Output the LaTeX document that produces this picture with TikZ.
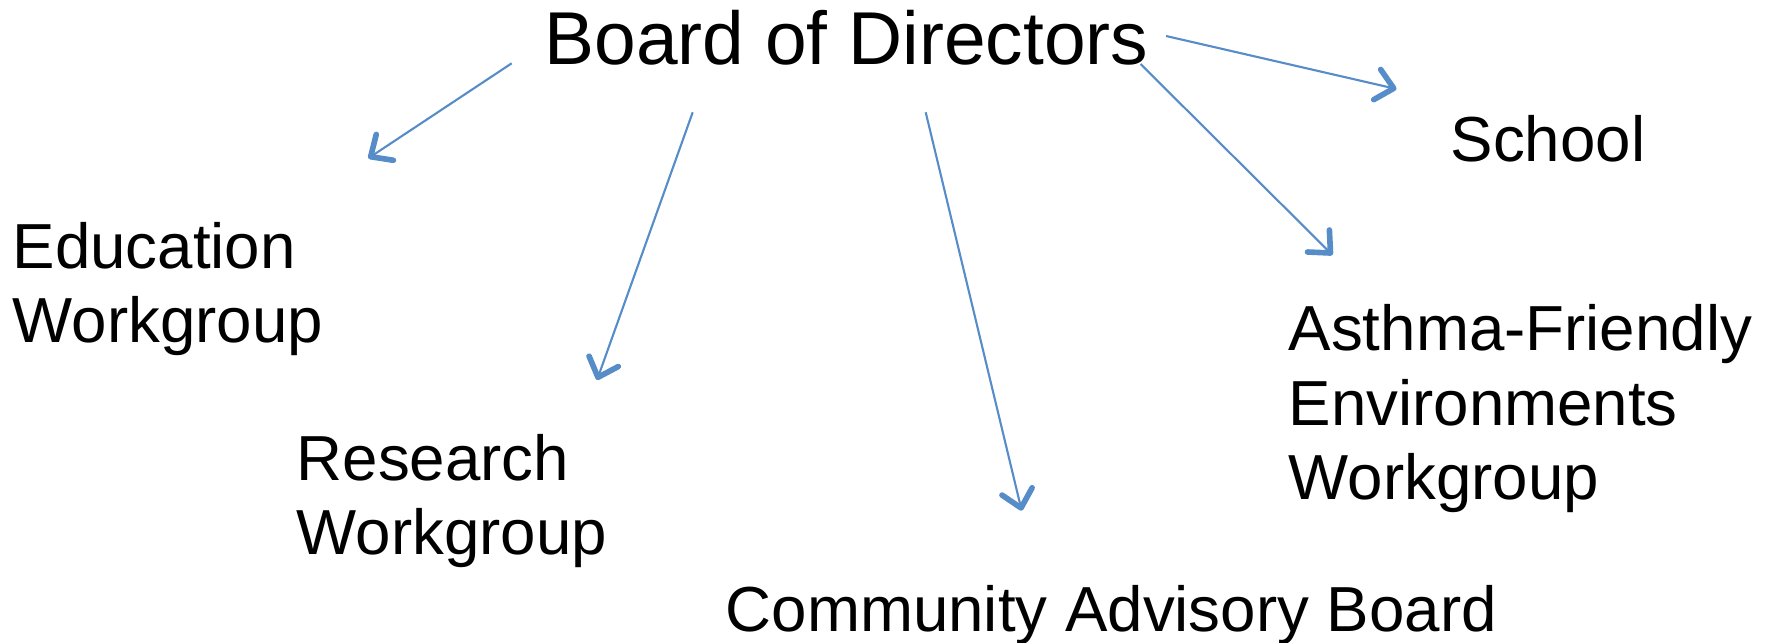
\documentclass[tikz,border=0pt]{standalone}
\usepackage{fontspec}
\setmainfont{Liberation Sans}
\usetikzlibrary{arrows.meta}
\definecolor{linkblue}{RGB}{86,140,200}

\begin{document}
\begin{tikzpicture}[
    x=0.01cm,
    y=-0.01cm,
    every node/.style={inner sep=0pt, anchor=base west, align=left},
    head/.style={font=\fontsize{21.3pt}{25pt}\selectfont},
    unit/.style={font=\fontsize{18.1pt}{21.3pt}\selectfont},
    link/.style={draw=linkblue, line width=0.6pt,
        -{Straight Barb[length=1.7mm, width=3.1mm, line width=1.6pt, round]}}
]
    \useasboundingbox (0,0) rectangle (1769,643);

    % Board on top, the groups spread out below it
    % (base of a multi-line node = baseline of its last line)
    \node[head] (board) at (544,65) {Board of Directors};
    \node[unit] (edu) at (12,343) {Education\\Workgroup};
    \node[unit] (research) at (296,555) {Research\\Workgroup};
    \node[unit] (cab) at (725,632) {Community Advisory Board};
    \node[unit] (afe) at (1288,500) {Asthma-Friendly\\Environments\\Workgroup};
    \node[unit] (school) at (1450,162) {School};

    \draw[link] ([shift={(-32.3,-1.7)}]board.base west) -- ([shift={(356.3,-184.7)}]edu.base west);
    \draw[link] ([shift={(148.7,47.3)}]board.base west) -- ([shift={(301,-175)}]research.base west);
    \draw[link] ([shift={(381.7,47.3)}]board.base west) -- ([shift={(296.7,-121.3)}]cab.base west);
    \draw[link] ([shift={(596.5,-1)}]board.base west) -- ([shift={(44.5,-245)}]afe.base west);
    \draw[link] ([shift={(622,-29)}]board.base west) -- ([shift={(-53.5,-73)}]school.base west);
\end{tikzpicture}
\end{document}
